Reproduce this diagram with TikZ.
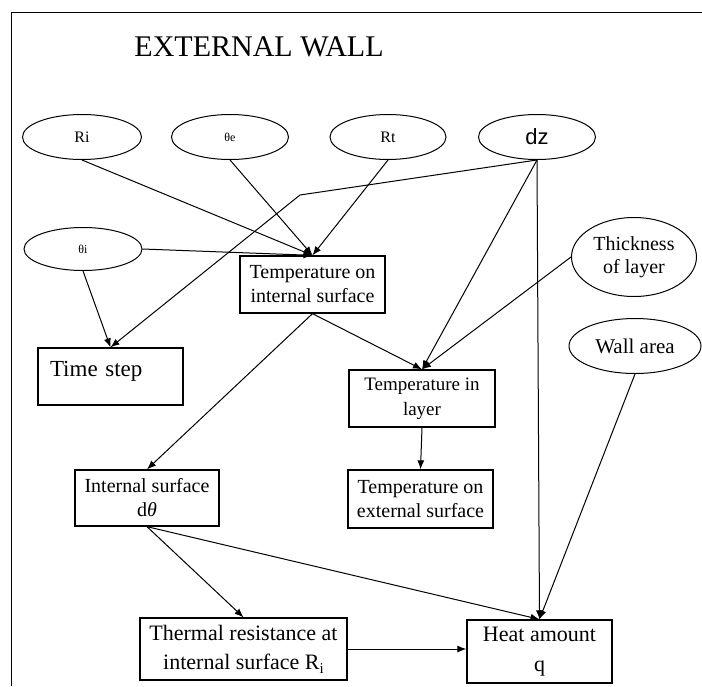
\documentclass[tikz,border=0pt]{standalone}
\usepackage{fontspec}
\setmainfont{Liberation Serif}
\newfontfamily\dzfont{Liberation Sans}
\usetikzlibrary{arrows.meta,shapes.geometric}
\newcommand{\fs}[1]{\fontsize{#1}{#1}\selectfont}
\tikzset{
  box/.style={draw, line width=1.3pt, rectangle, align=center, inner sep=2pt,
              font=\fontsize{20}{24}\selectfont},
  var/.style={draw, ellipse, line width=1pt, inner sep=0pt, align=center,
              font=\fontsize{20}{23}\selectfont},
  arrow/.style={-{Latex[length=9pt,width=7pt]}, line width=1pt},
}

\begin{document}
\begin{tikzpicture}[x=1pt, y=-1pt]
\useasboundingbox (0,0) rectangle (702,686);
\draw[line width=1.3pt] (11.5,686) -- (11.5,12.7) -- (702,12.7);
\node[font=\fs{30}] (title) at (259,47) {EXTERNAL WALL};

% input variables
\node[var, minimum width=119pt, minimum height=45pt, font=\fs{16}] (ri) at (82,137) {Ri};
\node[var, minimum width=117pt, minimum height=45pt, font=\fs{12}] (the) at (230,137) {θe};
\node[var, minimum width=116pt, minimum height=45pt, font=\fs{16}] (rt) at (388,137) {Rt};
\node[var, minimum width=117pt, minimum height=45pt, font=\dzfont\fs{22}] (dz) at (537,137) {dz};
\node[var, minimum width=118pt, minimum height=43pt, font=\fs{12}] (thi) at (83,249) {θi};
\node[var, minimum width=125pt, minimum height=79pt] (thick) at (634,257) {Thickness\\of layer};
\node[var, minimum width=132pt, minimum height=55pt, font=\fs{21}] (wall) at (635,346) {Wall area};

% computed quantities
\node[box, minimum width=145pt, minimum height=57pt] (tin) at (312.5,284.5) {Temperature on\\internal surface};
\node[box, minimum height=57pt, text width=121pt, inner xsep=12pt, align=left,
      font=\fs{23}] (ts) at (110.5,376.5) {Time step\\[-8pt]\mbox{}};
\node[box, minimum width=146pt, minimum height=57pt, font=\fontsize{19}{25}\selectfont] (tl) at (422,398.5) {Temperature in\\layer};
\node[box, minimum width=144pt, minimum height=56pt] (isd) at (147,498) {Internal surface\\d\textit{θ}};
\node[box, minimum width=145pt, minimum height=58pt] (tel) at (420.5,499) {Temperature on\\external surface};
\node[box, minimum width=207pt, minimum height=62pt, font=\fontsize{22}{29}\selectfont] (tr) at (243.5,649) {Thermal resistance at\\internal surface R\raisebox{-4pt}{\fs{15}i}};
\node[box, minimum width=145pt, minimum height=63pt, font=\fontsize{22}{30}\selectfont] (ha) at (539.5,651.5) {Heat amount\\q};

\coordinate (bend) at (300,195);

\foreach \s in {ri,the,rt} {\draw[arrow] (\s.south) -- (tin.north);}
\draw[arrow] (thi.east) -- (tin.north);
\draw[arrow] (thi.south) -- (ts.north);
\draw[arrow] (dz.south) -- (bend) -- (ts.north);
\draw[arrow] (dz.south) -- (tl.north);
\draw[arrow] (dz.south) -- (ha.north);
\draw[arrow] (thick.west) -- (tl.north);
\draw[arrow] (tin.south) -- (tl.north);
\draw[arrow] (tin.south) -- (isd.north);
\draw[arrow] (tl.south) -- (tel.north);
\draw[arrow] (wall.south) -- (ha.north);
\draw[arrow] (isd.south) -- (tr.north);
\draw[arrow] (isd.south) -- (ha.north);
\draw[arrow] (tr.east) -- (tr.east -| ha.west);
\end{tikzpicture}
\end{document}
